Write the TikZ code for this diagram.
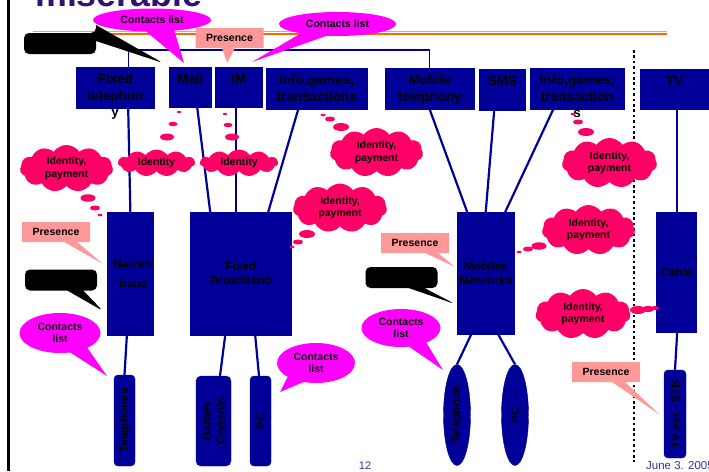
\documentclass[tikz,border=0pt]{standalone}
\usepackage{fontspec}
\setmainfont{Liberation Sans}
\usetikzlibrary{shapes.geometric,shapes.symbols,shapes.callouts}

\definecolor{boxColour}{HTML}{000099}
\definecolor{cloudColour}{HTML}{FF0066}
\definecolor{contactsColour}{HTML}{FF00FF}
\definecolor{presenceColour}{HTML}{FF9999}
\definecolor{ruleColour}{HTML}{FF6600}
\definecolor{ruleLightColour}{HTML}{FF9966}
\definecolor{titleColour}{HTML}{2E1470}
\definecolor{footColour}{HTML}{333399}

\tikzset{
    service/.style={fill=boxColour, draw=boxColour, anchor=north west, inner sep=0pt},
    serviceText/.style={anchor=north, align=center, inner sep=0pt, yshift=-7pt,
        font=\fontsize{13.5}{16.5}\selectfont\bfseries},
    network/.style={fill=boxColour, draw=boxColour, anchor=north west, inner sep=0pt,
        align=center, font=\fontsize{11.7}{14}\selectfont\bfseries},
    device/.style={fill=boxColour, draw=boxColour, rotate=90, inner sep=0pt,
        align=center, font=\fontsize{11.7}{14}\selectfont\bfseries},
    link/.style={draw=boxColour, line width=2.2pt},
    bus/.style={draw=boxColour, line width=1.1pt},
    contacts/.style={ellipse callout, fill=contactsColour, inner sep=0pt, align=center,
        callout pointer arc=28, font=\fontsize{10.5}{12.5}\selectfont\bfseries},
    presence/.style={rectangle callout, fill=presenceColour, inner sep=0pt,
        minimum width=68, minimum height=20, callout pointer width=13,
        font=\fontsize{10.5}{12.5}\selectfont\bfseries},
    hidden/.style={rectangle callout, fill=black, rounded corners=5pt, inner sep=0pt,
        minimum width=72, minimum height=21, callout pointer width=16},
    idCloud/.style={cloud, cloud puffs=11, cloud puff arc=110, cloud ignores aspect,
        fill=cloudColour, inner sep=0pt, align=center,
        font=\fontsize{10.5}{12.5}\selectfont\bfseries},
    bubble/.style={fill=cloudColour}
}

\begin{document}
\begin{tikzpicture}[x=1pt, y=-1pt]
    \useasboundingbox (0,0) rectangle (709,471);
    \clip (0,0) rectangle (709,471);

    % Slide title and rules
    \node[anchor=base west, inner sep=0pt, text=titleColour,
        font=\fontsize{35.8}{40}\selectfont\bfseries] (title) at (35,6.5) {miserable};
    \draw[black, line width=3pt] (8.5,0) -- (8.5,471);
    \draw[ruleLightColour, line width=1.5pt] (33,31.5) -- (667,31.5);
    \draw[ruleColour, line width=2.5pt] (33,33.8) -- (667,33.8);
    \draw[black, line width=2.6pt, dash pattern=on 2.6pt off 2.8pt] (634,50) -- (634,462);

    % Services
    \node[service, minimum width=78, minimum height=41,
        label={[serviceText]north:{Fixed\\telephon\\y}}] (fixedTel) at (76,67) {};
    \node[service, minimum width=42, minimum height=40,
        label={[serviceText]north:Mail}] (mail) at (169,67) {};
    \node[service, minimum width=47, minimum height=40,
        label={[serviceText]north:IM}] (im) at (215,67) {};
    \node[service, minimum width=101, minimum height=41,
        label={[serviceText]north:{Info,games,\\transactions}}] (infoFixed) at (266,68) {};
    \node[service, minimum width=89, minimum height=41,
        label={[serviceText]north:{Mobile\\telephony}}] (mobileTel) at (385,68) {};
    \node[service, minimum width=46, minimum height=41,
        label={[serviceText]north:SMS}] (sms) at (479,69) {};
    \node[service, minimum width=94, minimum height=41,
        label={[serviceText]north:{Info,games,\\transaction\\s}}] (infoMobile) at (530,68) {};
    \node[service, minimum width=68, minimum height=40,
        label={[serviceText]north:TV}] (tv) at (640,69) {};

    % Networks
    \node[network, minimum width=43, minimum height=123] (narrow) at (107,212) {\hspace*{6pt}Narrow\\[6pt]\hspace*{6pt}band};
    \node[network, minimum width=101, minimum height=123] (broadband) at (190,212) {Fixed\\Broadband};
    \node[network, minimum width=57, minimum height=122] (mobileNet) at (457,212) {Mobiles\\Networks};
    \node[network, minimum width=40, minimum height=120] (cable) at (656,212) {Cable};

    % Terminals
    \node[device, rounded corners=4pt, minimum width=91, minimum height=21] (telephones) at (124.5,420.5) {Telephones};
    \node[device, rounded corners=5pt, minimum width=90, minimum height=35] (console) at (213.5,421) {Games\\Console};
    \node[device, rounded corners=4pt, minimum width=90, minimum height=21] (pcFixed) at (260.5,421) {PC};
    \node[device, ellipse, minimum width=101, minimum height=27] (telephone) at (457,415) {Telephone};
    \node[device, ellipse, minimum width=101, minimum height=27] (pcMobile) at (515,415) {PC};
    \node[device, rounded corners=4pt, minimum width=88, minimum height=22] (tvSet) at (675,414) {TV set - STB};

    % Links
    \coordinate (busMid) at (270,50);
    \draw[bus] ([xshift=13]fixedTel.north) |- (busMid) -| (mobileTel.north);
    \draw[link] ([xshift=13]fixedTel.south) -- (narrow.north);
    \draw[link] ([xshift=7]mail.south) -- ([xshift=-30.5]broadband.north);
    \draw[link] ([xshift=-2.5]im.south) -- ([xshift=-4.5]broadband.north);
    \draw[link] ([xshift=-18.5]infoFixed.south) -- ([xshift=27.5]broadband.north);
    \draw[link] (mobileTel.south) -- ([xshift=-18.5]mobileNet.north);
    \draw[link] ([xshift=-8]sms.south) -- (mobileNet.north);
    \draw[link] ([xshift=-24]infoMobile.south) -- ([xshift=19.5]mobileNet.north);
    \draw[link] ([xshift=3]tv.south) -- ([xshift=1]cable.north);
    \draw[link] ([xshift=-3.5]narrow.south) -- (telephones.east);
    \draw[link] ([xshift=-15.5]broadband.south) -- ([xshift=6.5]console.east);
    \draw[link] ([xshift=14.5]broadband.south) -- ([xshift=-1.5]pcFixed.east);
    \draw[link] ([xshift=-14.5]mobileNet.south) -- (telephone.east);
    \draw[link] ([xshift=12.5]mobileNet.south) -- (pcMobile.east);
    \draw[link] ([xshift=1]cable.south) -- (tvSet.east);

    % Callout tips
    \coordinate (tipContactsA) at (184,63);
    \coordinate (tipContactsB) at (252,62);
    \coordinate (tipContactsC) at (107,376);
    \coordinate (tipContactsD) at (280,392);
    \coordinate (tipContactsE) at (443,370);
    \coordinate (tipPresenceA) at (227,63);
    \coordinate (tipPresenceB) at (103,264);
    \coordinate (tipPresenceC) at (455,267);
    \coordinate (tipPresenceD) at (660,415);
    \coordinate (tipHiddenA) at (163,63);
    \coordinate (tipHiddenB) at (103,311);
    \coordinate (tipHiddenC) at (455,304);

    % Hidden callouts
    \node[hidden, callout absolute pointer={(tipHiddenA)}] (hiddenA) at (60,43.5) {};
    \node[hidden, callout absolute pointer={(tipHiddenB)}] (hiddenB) at (61,280) {};
    \node[hidden, callout absolute pointer={(tipHiddenC)}] (hiddenC) at (401.5,277.5) {};

    % Presence callouts
    \node[presence, callout absolute pointer={(tipPresenceA)}] (presenceA) at (229.5,38) {Presence};
    \node[presence, callout absolute pointer={(tipPresenceB)}] (presenceB) at (56,232) {Presence};
    \node[presence, callout absolute pointer={(tipPresenceC)}] (presenceC) at (415,243) {Presence};
    \node[presence, callout absolute pointer={(tipPresenceD)}] (presenceD) at (606,372) {Presence};

    % Contacts callouts
    \node[contacts, minimum width=118, minimum height=23,
        callout absolute pointer={(tipContactsA)}] (contactsA) at (152,20) {Contacts list};
    \node[contacts, minimum width=117, minimum height=24,
        callout absolute pointer={(tipContactsB)}] (contactsB) at (337.5,24) {Contacts list};
    \node[contacts, minimum width=81, minimum height=40,
        callout absolute pointer={(tipContactsC)}] (contactsC) at (60,333) {Contacts\\list};
    \node[contacts, minimum width=78, minimum height=40,
        callout absolute pointer={(tipContactsD)}] (contactsD) at (316,363) {Contacts\\list};
    \node[contacts, minimum width=79, minimum height=38,
        callout absolute pointer={(tipContactsE)}] (contactsE) at (401,328) {Contacts\\list};

    % Thought clouds
    \foreach \x/\y/\r in {88/198/7.5, 95/208/5, 100/215/2.5,
                          167/137/7, 173/124/4.5, 179/112/2.2,
                          232/137/7, 228/125/4.5, 225/114/2.2,
                          341/127/8, 330/119/5, 323/115/2.5,
                          307/234/8, 298/242/5, 292/247/2.5,
                          586/132/8, 578/122/5, 573/114/2.5,
                          539/246/7.5, 528/249/5, 519/252/2.5,
                          638/310/8, 648/309/6, 655/308/4}
        \fill[bubble] (\x,\y) ellipse ({\r} and {\r*0.5});

    \node[idCloud, minimum width=93, minimum height=47] (idNarrow) at (66.5,168.5) {Identity,\\payment};
    \node[idCloud, minimum width=77, minimum height=27] (idMail) at (156.5,163) {Identity};
    \node[idCloud, minimum width=78, minimum height=27] (idIm) at (239,163) {Identity};
    \node[idCloud, minimum width=93, minimum height=49] (idInfoFixed) at (376.5,152.5) {Identity,\\payment};
    \node[idCloud, minimum width=94, minimum height=49] (idBroadband) at (340,208) {Identity,\\payment};
    \node[idCloud, minimum width=95, minimum height=50] (idInfoMobile) at (609.5,163) {Identity,\\payment};
    \node[idCloud, minimum width=93, minimum height=50] (idMobile) at (588.5,230) {Identity,\\payment};
    \node[idCloud, minimum width=95, minimum height=50] (idCable) at (583,314) {Identity,\\payment};

    % Footer
    \node[anchor=base, inner sep=0pt, text=footColour, font=\fontsize{11}{13}\selectfont] (pageNo) at (365,469.5) {12};
    \node[anchor=base west, inner sep=0pt, text=footColour, font=\fontsize{11.5}{13}\selectfont] (date) at (646,469.5) {June 3. 2005};

\end{tikzpicture}
\end{document}
